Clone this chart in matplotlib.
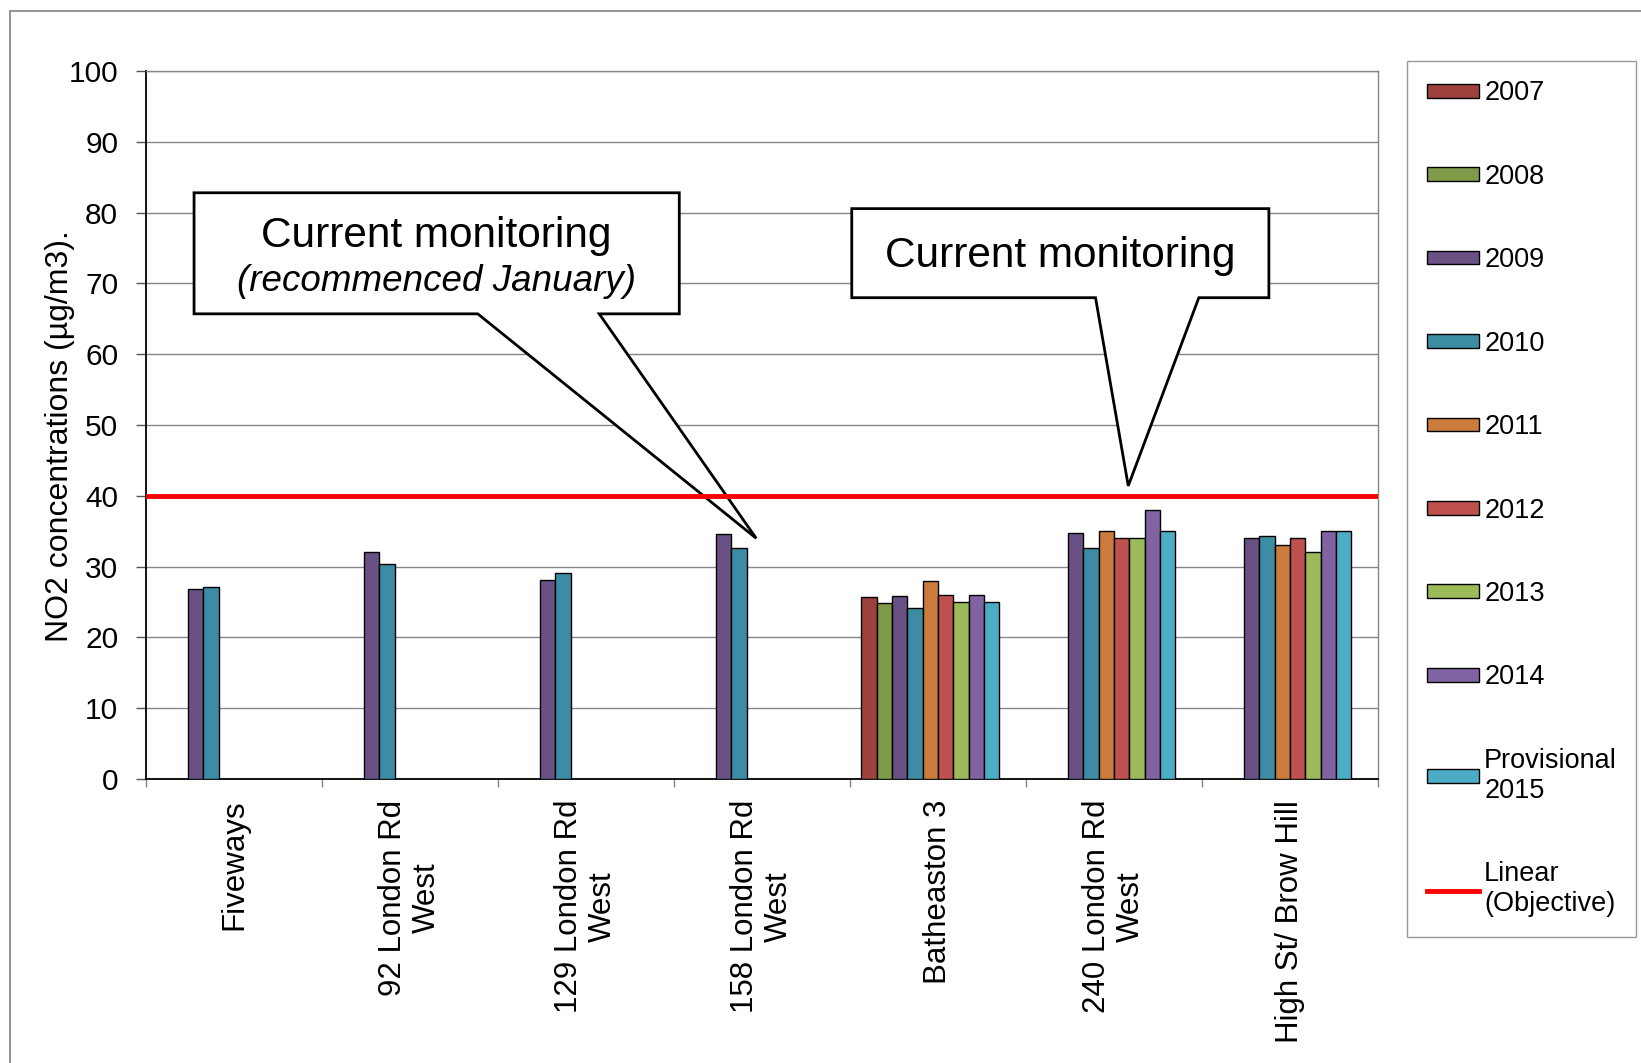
import numpy as np
import matplotlib
matplotlib.use("Agg")
import matplotlib.pyplot as plt
from matplotlib.patches import Polygon, Rectangle, Patch
from matplotlib.lines import Line2D

nan = np.nan

# ---------------- data ----------------
categories = ["Fiveways", "92 London Rd\nWest", "129 London Rd\nWest",
              "158 London Rd\nWest", "Batheaston 3", "240 London Rd\nWest",
              "High St/ Brow Hill"]
series_names = ["2007", "2008", "2009", "2010", "2011", "2012", "2013",
                "2014", "Provisional\n2015"]
values_2007 = [nan, nan, nan, nan, 25.7, nan, nan]
values_2008 = [nan, nan, nan, nan, 24.9, nan, nan]
values_2009 = [26.8, 32.1, 28.1, 34.6, 25.8, 34.8, 34.0]
values_2010 = [27.1, 30.4, 29.1, 32.6, 24.2, 32.6, 34.3]
values_2011 = [nan, nan, nan, nan, 28.0, 35.0, 33.0]
values_2012 = [nan, nan, nan, nan, 26.0, 34.0, 34.0]
values_2013 = [nan, nan, nan, nan, 25.0, 34.0, 32.0]
values_2014 = [nan, nan, nan, nan, 26.0, 38.0, 35.0]
values_2015 = [nan, nan, nan, nan, 25.0, 35.0, 35.0]
objective = [40, 40, 40, 40, 40, 40, 40]
y_ticks = [0, 10, 20, 30, 40, 50, 60, 70, 80, 90, 100]

series_values = [values_2007, values_2008, values_2009, values_2010, values_2011,
                 values_2012, values_2013, values_2014, values_2015]
colors = ["#9E413E", "#7F9A48", "#695185", "#3C8DA3", "#CB7B3C",
          "#C0504D", "#9BBB59", "#8064A2", "#4BACC6"]

plt.rcParams['font.family'] = ['Liberation Sans', 'DejaVu Sans']

W, H = 1641, 1063
fig = plt.figure(figsize=(W / 100, H / 100), dpi=100)
ax = fig.add_axes([146 / W, 1 - 779 / H, (1378 - 146) / W, (779 - 71) / H])

x = np.arange(len(categories))
n_slots = len(series_values) + 1          # objective series takes an (invisible) slot
width = 0.873 / n_slots
for j, (name, vals, col) in enumerate(zip(series_names, series_values, colors)):
    offs = (j - (n_slots - 1) / 2) * width
    ax.bar(x + offs, vals, width, color=col, edgecolor='black', linewidth=1.0,
           zorder=3, label=name)
# invisible objective bars (slot only)
ax.bar(x + (n_slots - 1 - (n_slots - 1) / 2) * width, objective, width,
       fill=False, edgecolor='none', zorder=0)
# linear trendline of objective
ax.axhline(np.mean(objective), color='#FF0000', lw=3.5, zorder=5)

ax.set_xlim(-0.5, len(categories) - 0.5)
ax.set_ylim(y_ticks[0], y_ticks[-1])
ax.set_yticks(y_ticks)
ax.yaxis.grid(True, color='#868686', lw=1.0)
ax.set_axisbelow(True)

for s in ['left', 'bottom']:
    ax.spines[s].set_color('black')
    ax.spines[s].set_linewidth(1.3)
for s in ['top', 'right']:
    ax.spines[s].set_color('#868686')
    ax.spines[s].set_linewidth(1.0)

ax.tick_params(axis='y', direction='out', length=7, width=1, color='#555555',
               labelsize=21.5, pad=13)
ax.set_xticks(x)
ax.set_xticklabels(categories, rotation=90, fontsize=22.5, ha='center', va='top')
for lbl in ax.get_xticklabels():
    lbl.set_multialignment('center')
ax.tick_params(axis='x', which='major', length=0, pad=15)
ax.set_xticks(np.arange(-0.5, len(categories)), minor=True)
ax.tick_params(axis='x', which='minor', direction='out', length=6, width=1,
               color='#868686')

ax.set_ylabel("NO2 concentrations (µg/m3).", fontsize=23)
ax.yaxis.set_label_coords(-0.0576, 0.484)

# ---------------- callouts ----------------
def callout(x0, x1, y0, y1, bl, br, tip):
    verts = [(x0, y1), (x1, y1), (x1, y0), (br, y0), tip, (bl, y0), (x0, y0)]
    ax.add_patch(Polygon(verts, closed=True, facecolor='white', edgecolor='black',
                         lw=2.0, zorder=4, joinstyle='miter'))

callout(-0.227, 2.530, 65.7, 82.8, 1.385, 2.075, (2.967, 34.0))
ax.text((-0.227 + 2.530) / 2, 76.7, "Current monitoring", fontsize=30.5,
        ha='center', va='center', zorder=6)
ax.text((-0.227 + 2.530) / 2, 70.2, "(recommenced January)", fontsize=26.5,
        style='italic', ha='center', va='center', zorder=6)

callout(3.510, 5.880, 67.98, 80.56, 4.895, 5.482, (5.081, 41.4))
ax.text((3.510 + 5.880) / 2, 73.8, "Current monitoring", fontsize=30.5,
        ha='center', va='center', zorder=6)

# ---------------- legend ----------------
handles = [Patch(facecolor=c, edgecolor='black', lw=1.0) for c in colors]
handles.append(Line2D([], [], color='#FF0000', lw=3.5))
labels = series_names + ["Linear\n(Objective)"]
leg = fig.legend(handles, labels, loc='upper left',
                 bbox_to_anchor=(1407 / W, 1 - 913 / H, 229 / W, 852 / H),
                 bbox_transform=fig.transFigure, mode='expand',
                 fontsize=19.5, frameon=True, fancybox=False, edgecolor='#808080',
                 labelspacing=2.12, handlelength=1.93, handleheight=0.4,
                 handletextpad=0.2, borderpad=0.72, borderaxespad=0)
leg.get_frame().set_linewidth(1.0)

# outer chart border
fig.patches.append(Rectangle((10 / W, -0.1), 1.2, 1 - 11 / H + 0.1,
                             transform=fig.transFigure, fill=False,
                             edgecolor='#808080', lw=1.2))

fig.savefig("out.png", dpi=100)
